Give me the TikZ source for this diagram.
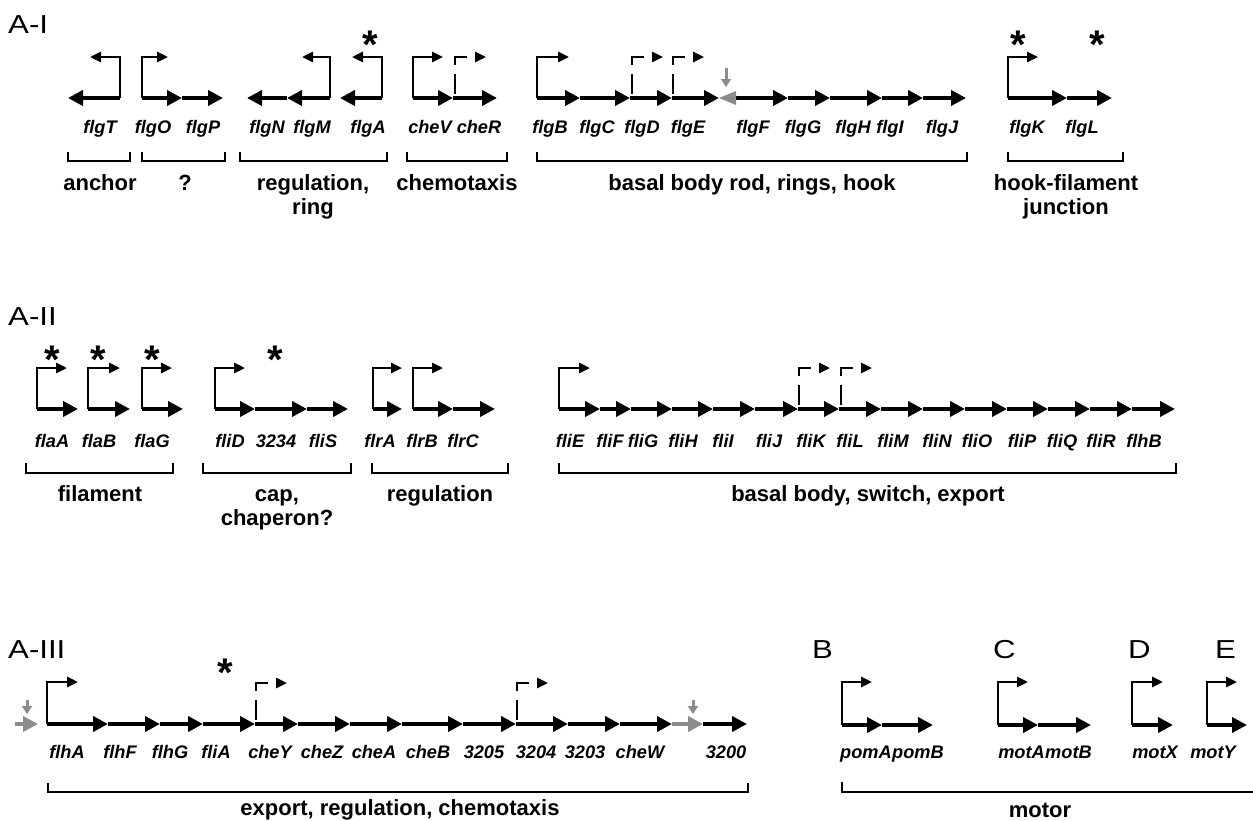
\documentclass[tikz,border=0pt]{standalone}
\usepackage{fontspec}
\setmainfont{Liberation Sans}
\newfontfamily\panelfont[FakeStretch=1.2]{Liberation Sans}
\usetikzlibrary{arrows.meta}
\definecolor{markgray}{RGB}{140,140,140}

\begin{document}
\begin{tikzpicture}[x=1pt, y=-1pt,
    gene/.style={line width=4.8pt, -{Triangle[length=15pt,width=15pt]}},
    prom/.style={line width=2.6pt, -{Triangle[length=11pt,width=10pt]}},
    dprom/.style={line width=2.6pt, {Triangle[length=11pt,width=10pt]}-, dash pattern=on 20pt off 9pt, dash phase=20pt},
    graydown/.style={markgray, line width=3pt, -{Triangle[length=8pt,width=10pt]}},
    brack/.style={line width=1.8pt},
    gname/.style={font=\fontsize{18.2}{20}\selectfont\bfseries\itshape, inner sep=0pt, anchor=base},
    cat/.style={font=\fontsize{22}{25}\selectfont\bfseries, inner sep=0pt, anchor=base},
    panel/.style={font=\fontsize{26}{30}\selectfont\panelfont, inner sep=0pt, anchor=base west},
    star/.style={font=\fontsize{40}{40}\selectfont\bfseries, inner sep=0pt, anchor=north}]
  \useasboundingbox (0,0) rectangle (1253,820);

  % panel letters
  \node[panel] (pAI) at (8,33) {A-I};
  \node[panel] (pAII) at (8,325) {A-II};
  \node[panel] (pAIII) at (8,658) {A-III};
  \node[panel] (pB) at (812,658) {B};
  \node[panel] (pC) at (993,658) {C};
  \node[panel] (pD) at (1128,658) {D};
  \node[panel] (pE) at (1215,658) {E};

  % ---- row A-I ----
  \foreach \a/\b in {120/68, 142/182, 182/223, 287/247, 330/287, 382/340, 413/453, 453/497,
      537/580, 580/630, 630/672, 672/719, 736/788, 788/830, 830/882, 882/923, 923/966,
      1008/1067, 1067/1112}
    \draw[gene] (\a,98) -- (\b,98);
  \fill[markgray] (719,98) -- (736,91) -- (736,105) -- cycle;
  \draw[graydown] (726,68) -- (726,87);
  % promoters
  \foreach \x/\t in {120/90, 142/168, 330/302, 382/352, 413/443, 537/569, 1008/1038}
    \draw[prom] (\x,98) -- (\x,57) -- (\t,57);
  \foreach \x/\t in {455/486, 632/663, 673/704}
    \draw[dprom] (\t,57) -- (\x,57) -- (\x,98);
  \node[star] (s1) at (370,31) {*};
  \node[star] (s2) at (1018,31) {*};
  \node[star] (s3) at (1097,31) {*};
  % gene names
  \foreach \g/\x in {flgT/100, flgO/153, flgP/203, flgN/267, flgM/312, flgA/368, cheV/430,
      cheR/479, flgB/550, flgC/597, flgD/642, flgE/688, flgF/753, flgG/803, flgH/853,
      flgI/890, flgJ/942, flgK/1027, flgL/1082}
    \node[gname] (g-\g) at (\x,133) {\g};
  % brackets
  \foreach \a/\b in {68/130, 142/225, 240/387, 407/507, 537/967, 1008/1123}
    \draw[brack] (\a,152) -- (\a,161) -- (\b,161) -- (\b,152);
  \node[cat] (c-anchor) at (100,190) {anchor};
  \node[cat] (c-unknown) at (185,190) {?};
  \node[cat] (c-reg1) at (313,190) {regulation,};
  \node[cat] (c-reg2) at (313,214) {ring};
  \node[cat] (c-chemo1) at (457,190) {chemotaxis};
  \node[cat] (c-rod) at (752,190) {basal body rod, rings, hook};
  \node[cat] (c-hook1) at (1066,190) {hook-filament};
  \node[cat] (c-hook2) at (1066,214) {junction};

  % ---- row A-II ----
  \foreach \a/\b in {37/78, 88/130, 142/183, 215/255, 255/307, 307/348, 373/402, 413/453, 453/495,
      559/600, 600/631, 631/672, 672/713, 713/755, 755/798, 798/839, 839/881, 881/923,
      923/965, 965/1007, 1007/1048, 1048/1090, 1090/1132, 1132/1175}
    \draw[gene] (\a,409) -- (\b,409);
  \foreach \x/\t in {37/67, 88/120, 142/172, 215/245, 373/402, 413/443, 559/590}
    \draw[prom] (\x,409) -- (\x,368) -- (\t,368);
  \foreach \x/\t in {799/830, 841/872}
    \draw[dprom] (\t,368) -- (\x,368) -- (\x,409);
  \node[star] (s4) at (52,346) {*};
  \node[star] (s5) at (98,346) {*};
  \node[star] (s6) at (152,346) {*};
  \node[star] (s7) at (275,346) {*};
  \foreach \g/\x in {flaA/52, flaB/99, flaG/152, fliD/230, 3234/276, fliS/323, flrA/380,
      flrB/422, flrC/463, fliE/570, fliF/610, fliG/643, fliH/683, fliI/723, fliJ/769,
      fliK/811, fliL/850, fliM/893, fliN/937, fliO/977, fliP/1022, fliQ/1062, fliR/1101,
      flhB/1144}
    \node[gname] (g-\g) at (\x,447) {\g};
  \foreach \a/\b in {26/173, 203/351, 372/508, 559/1176}
    \draw[brack] (\a,463) -- (\a,473) -- (\b,473) -- (\b,463);
  \node[cat] (c-fil) at (100,501) {filament};
  \node[cat] (c-cap1) at (277,501) {cap,};
  \node[cat] (c-cap2) at (277,525) {chaperon?};
  \node[cat] (c-reg3) at (440,501) {regulation};
  \node[cat] (c-switch) at (868,501) {basal body, switch, export};

  % ---- row A-III ----
  \foreach \a/\b in {47/108, 108/160, 160/203, 203/255, 255/298, 298/350, 350/402, 402/463,
      463/516, 516/568, 568/620, 620/672, 703/747}
    \draw[gene] (\a,724) -- (\b,724);
  \draw[gene, markgray] (672,724) -- (703,724);
  \draw[gene, markgray] (15,724) -- (38,724);
  \draw[graydown] (27,700) -- (27,714);
  \draw[graydown] (693,700) -- (693,714);
  \draw[prom] (47,724) -- (47,682) -- (78,682);
  \foreach \x/\t in {256/287, 517/548}
    \draw[dprom] (\t,683) -- (\x,683) -- (\x,724);
  \node[star] (s8) at (225,659) {*};
  \foreach \g/\x in {flhA/67, flhF/120, flhG/170, fliA/216, cheY/270, cheZ/322, cheA/374,
      cheB/428, 3205/484, 3204/536, 3203/585, cheW/640, 3200/726}
    \node[gname] (g-\g) at (\x,758) {\g};
  \draw[brack] (48,783) -- (48,792) -- (748,792) -- (748,783);
  \node[cat] (c-export) at (400,815) {export, regulation, chemotaxis};

  % ---- B to E ----
  \foreach \a/\b in {842/882, 882/933, 998/1038, 1038/1091, 1132/1173, 1207/1247}
    \draw[gene] (\a,725) -- (\b,725);
  \foreach \x/\t in {842/872, 998/1028, 1132/1163, 1207/1237}
    \draw[prom] (\x,725) -- (\x,682) -- (\t,682);
  \node[gname, anchor=base east] (g-pomA) at (892,758) {pomA};
  \node[gname, anchor=base west] (g-pomB) at (892,758) {pomB};
  \node[gname, anchor=base east] (g-motA) at (1045,758) {motA};
  \node[gname, anchor=base west] (g-motB) at (1045,758) {motB};
  \node[gname] (g-motX) at (1155,758) {motX};
  \node[gname] (g-motY) at (1213,758) {motY};
  \draw[brack] (842,782) -- (842,792) -- (1253,792);
  \node[cat] (c-motor) at (1040,817) {motor};
\end{tikzpicture}
\end{document}
